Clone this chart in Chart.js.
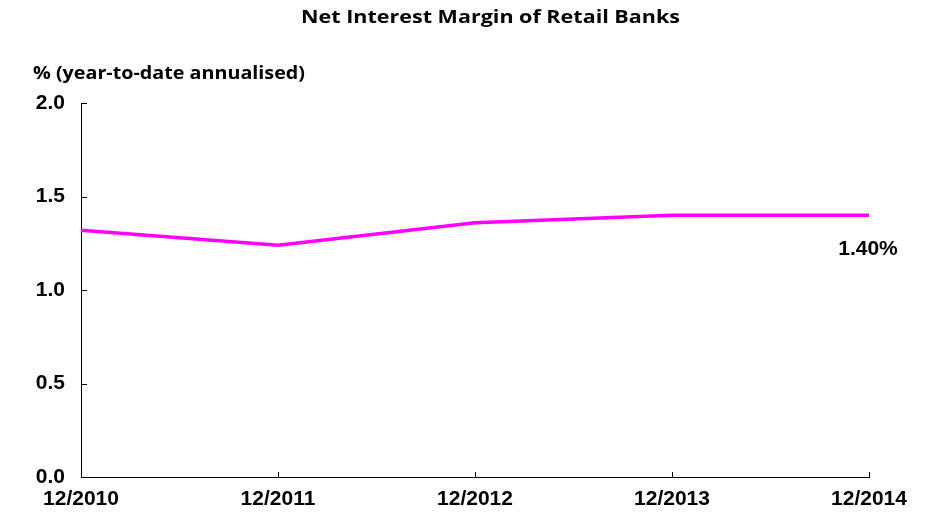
<!DOCTYPE html>
<html>
<head>
<meta charset="utf-8">
<script src="https://cdn.jsdelivr.net/npm/chart.js@4"></script>
<style>
  html, body { margin: 0; padding: 0; background: #fff; }
  #wrap { width: 932px; height: 513px; position: relative; }
</style>
</head>
<body>
<div id="wrap"><canvas id="nimchart"></canvas></div>
<script>
const periods = ['12/2010', '12/2011', '12/2012', '12/2013', '12/2014'];
const nimValues = [1.32, 1.24, 1.36, 1.40, 1.40];
const chartTitle = 'Net Interest Margin of Retail Banks';
const unitLabel = '% (year-to-date annualised)';
const lastLabel = '1.40%';

// draw text squeezed/stretched to a given width (source uses a wide font)
function wideText(ctx, text, left, midY, width) {
  const w = ctx.measureText(text).width;
  ctx.save();
  ctx.translate(left, midY);
  ctx.scale(width / w, 1);
  ctx.textAlign = 'left';
  ctx.fillText(text, 0, 0);
  ctx.restore();
}

// inward tick marks, title, unit label and end-value label
const extras = {
  id: 'extras',
  afterDraw(chart) {
    const ctx = chart.ctx;
    const x = chart.scales.x, y = chart.scales.y;
    const area = chart.chartArea;
    ctx.save();
    ctx.strokeStyle = '#000';
    ctx.lineWidth = 1;
    ctx.beginPath();
    y.ticks.forEach(t => {
      const py = Math.round(y.getPixelForValue(t.value)) + 0.5;
      ctx.moveTo(area.left, py);
      ctx.lineTo(area.left + 6, py);
    });
    periods.forEach((p, i) => {
      const px = Math.round(x.getPixelForValue(i)) + 0.5;
      ctx.moveTo(px, area.bottom);
      ctx.lineTo(px, area.bottom - 5);
    });
    ctx.stroke();

    ctx.fillStyle = '#000';
    ctx.textBaseline = 'middle';
    ctx.font = 'bold 18px "Open Sans", sans-serif';
    wideText(ctx, chartTitle, 301, 18, 379);
    wideText(ctx, unitLabel, 33, 74, 272);

    const last = nimValues.length - 1;
    ctx.textAlign = 'center';
    ctx.font = 'bold 21px "Liberation Sans", Arial, sans-serif';
    ctx.fillText(lastLabel, x.getPixelForValue(last) - 1, y.getPixelForValue(nimValues[last]) + 34);
    ctx.restore();
  }
};

const ctx = document.getElementById('nimchart').getContext('2d');
new Chart(ctx, {
  type: 'line',
  data: {
    labels: periods,
    datasets: [{
      label: 'Net interest margin',
      data: nimValues,
      borderColor: '#ff00ff',
      borderWidth: 3.5,
      pointRadius: 0,
      tension: 0,
      fill: false
    }]
  },
  options: {
    responsive: true,
    maintainAspectRatio: false,
    animation: false,
    layout: { padding: { top: 103, right: 63, left: 0, bottom: 0 } },
    plugins: {
      legend: { display: false },
      title: { display: false },
      tooltip: { enabled: false }
    },
    scales: {
      x: {
        offset: false,
        grid: { display: false, drawTicks: false },
        border: { display: true, color: '#000', width: 1 },
        ticks: {
          color: '#000',
          font: { family: '"Liberation Sans", Arial, sans-serif', size: 21, weight: 'bold' },
          padding: 10,
          maxRotation: 0,
          autoSkip: false
        },
        afterFit(scale) { scale.height = 36; }
      },
      y: {
        min: 0,
        max: 2,
        grid: { display: false, drawTicks: false },
        border: { display: true, color: '#000', width: 1 },
        ticks: {
          stepSize: 0.5,
          color: '#000',
          font: { family: '"Liberation Sans", Arial, sans-serif', size: 21, weight: 'bold' },
          padding: 16,
          callback: v => v.toFixed(1)
        },
        afterFit(scale) { scale.width = 81; }
      }
    }
  },
  plugins: [extras]
});
</script>
</body>
</html>
